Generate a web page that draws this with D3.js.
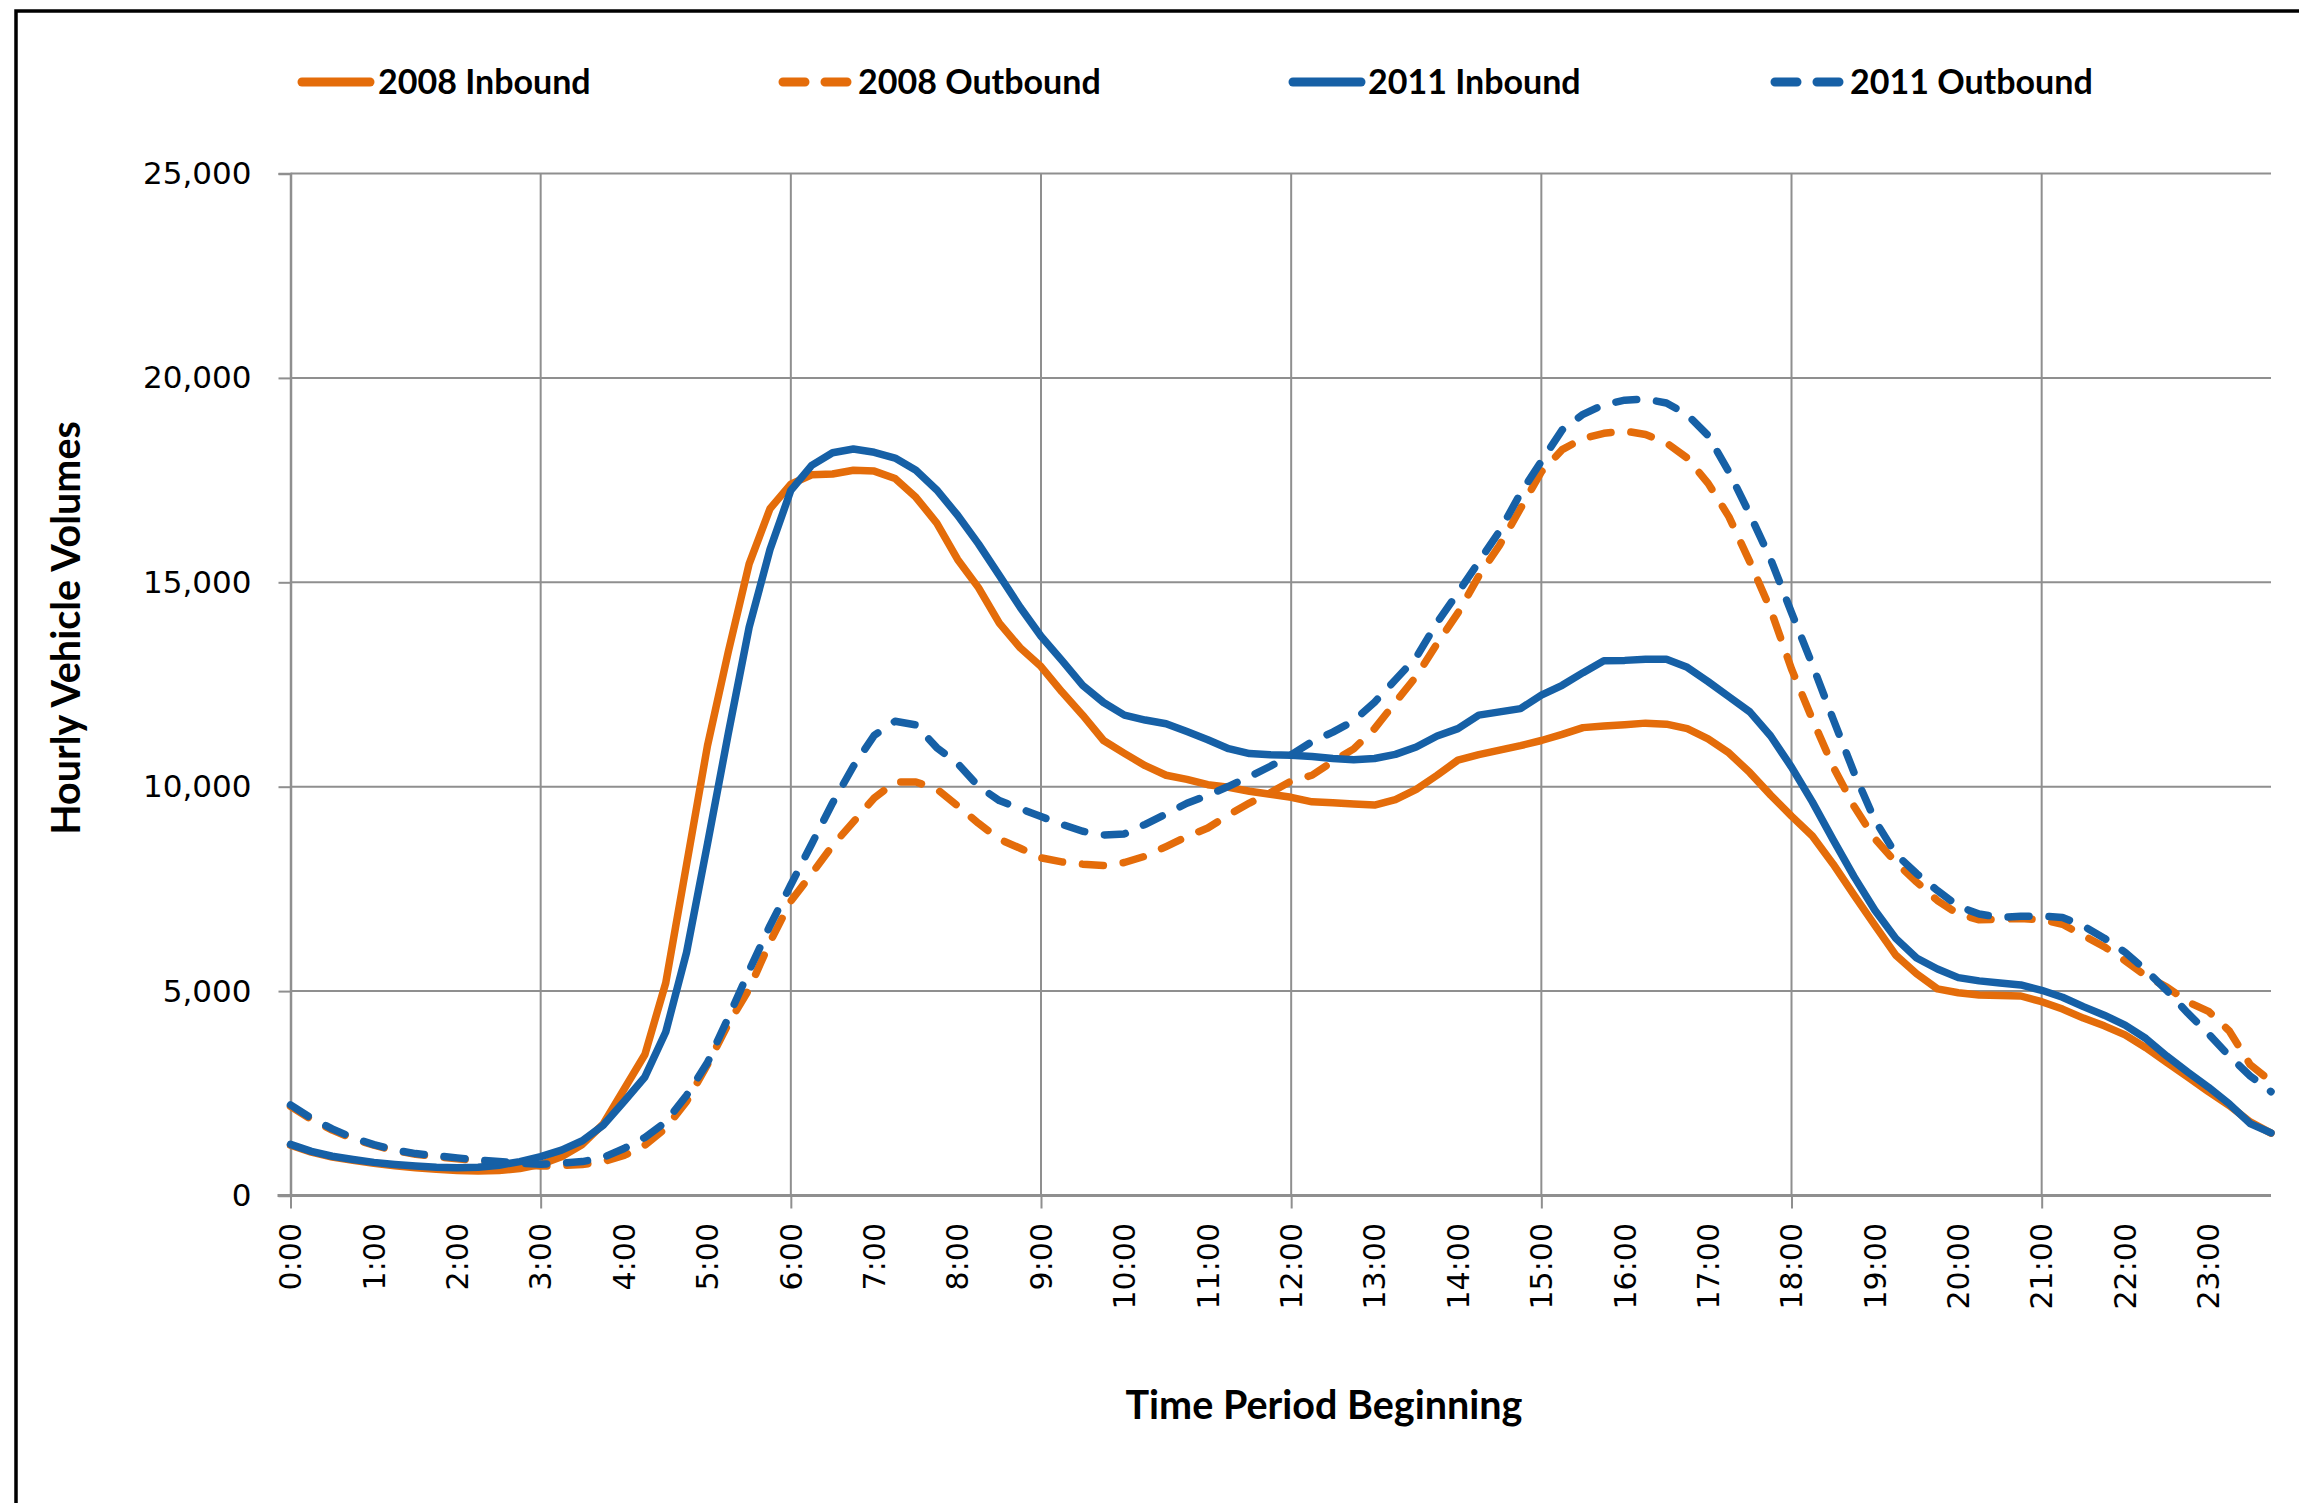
<!DOCTYPE html>
<html>
<head>
<meta charset="utf-8">
<script src="https://cdn.jsdelivr.net/npm/d3@7"></script>
<style>
  html, body { margin: 0; padding: 0; background: #ffffff; }
  svg { display: block; }
</style>
</head>
<body>
<svg id="chart" width="2299" height="1503"></svg>
<script>
// ---------------- data ----------------
const hourLabels = ["0:00","1:00","2:00","3:00","4:00","5:00","6:00","7:00","8:00","9:00","10:00","11:00",
                    "12:00","13:00","14:00","15:00","16:00","17:00","18:00","19:00","20:00","21:00","22:00","23:00"];
const quarterSuffix = ["00","15","30","45"];
const yTickValues = [0, 5000, 10000, 15000, 20000, 25000];
const seriesNames = ["2008 Inbound", "2008 Outbound", "2011 Inbound", "2011 Outbound"];

const inbound2008 = [
  1230,1060,940,860, 790,730,680,640, 610,600,610,660, 760,950,1250,1750,
  2600,3450,5200,8100, 11000,13300,15450,16800, 17400,17630,17650,17740,
  17720,17540,17080,16450, 15560,14870,14000,13400, 12940,12320,11750,11130,
  10815,10515,10280,10180, 10050,9985,9890,9815, 9740,9630,9605,9575,
  9550,9685,9935,10280, 10650,10785,10895,11005, 11130,11280,11445,11485,
  11515,11555,11530,11420, 11170,10825,10345,9795, 9280,8795,8105,7350,
  6610,5880,5425,5055, 4960,4905,4890,4880, 4740,4560,4340,4150,
  3930,3615,3255,2900, 2540,2200,1800,1525
];
const outbound2008 = [
  2180,1860,1600,1390, 1230,1100,1010,950, 900,850,800,760, 720,730,760,830,
  980,1230,1650,2300, 3200,4200,5050,6200, 7200,7870,8560,9140,
  9725,10115,10115,9945, 9530,9105,8715,8495, 8260,8160,8105,8070,
  8145,8300,8535,8780, 8990,9310,9600,9855, 10140,10280,10620,10925,
  11420,12065,12700,13500, 14250,15155,15910,16805, 17700,18245,18520,18645,
  18700,18615,18410,18040, 17420,16600,15500,14330, 12880,11650,10485,9520,
  8725,8150,7670,7215, 6885,6745,6760,6775, 6745,6635,6360,6085,
  5745,5370,5100,4740, 4505,4025,3200,2790
];
const inbound2011 = [
  1250,1080,960,880, 810,760,720,690, 680,690,740,830, 950,1110,1340,1720,
  2300,2900,4000,5950, 8600,11300,13900,15800, 17250,17860,18170,18260,
  18180,18040,17740,17260, 16640,15940,15170,14390, 13680,13090,12480,12060,
  11750,11630,11540,11350, 11150,10930,10810,10780, 10770,10740,10690,10660,
  10690,10790,10970,11240, 11420,11750,11830,11910, 12240,12480,12790,13080,
  13090,13120,13120,12920, 12570,12200,11830,11240, 10480,9630,8700,7800,
  6980,6290,5810,5540, 5330,5250,5200,5150, 5020,4850,4620,4410,
  4170,3840,3410,3020, 2650,2240,1760,1530
];
const outbound2011 = [
  2215,1890,1630,1410, 1245,1115,1025,970, 920,870,830,790, 765,790,830,930,
  1150,1420,1800,2450, 3250,4350,5500,6600, 7600,8600,9600,10500,
  11255,11600,11510,10955, 10570,10010,9660,9465, 9270,9080,8910,8820,
  8845,9080,9335,9595, 9790,10010,10245,10500, 10780,11100,11335,11610,
  12065,12615,13165,14015, 14745,15500,16255,17175, 17960,18730,19110,19345,
  19455,19485,19385,19100, 18590,17700,16665,15565, 14260,12985,11650,10345,
  9180,8355,7875,7460, 7075,6885,6800,6830, 6840,6800,6595,6295,
  5950,5510,5015,4465, 3955,3410,2925,2540
];

// categories: every 15 minutes
const categories = [];
hourLabels.forEach(h => quarterSuffix.forEach(q => categories.push(h.split(":")[0] + ":" + q)));

// ---------------- styles ----------------
const ORANGE = "#E46C0A";
const BLUE = "#1660A6";
const GRID = "#8f8f8f";
const series = [
  { name: seriesNames[0], values: inbound2008, color: ORANGE, dashed: false },
  { name: seriesNames[1], values: outbound2008, color: ORANGE, dashed: true },
  { name: seriesNames[2], values: inbound2011, color: BLUE, dashed: false },
  { name: seriesNames[3], values: outbound2011, color: BLUE, dashed: true }
];

const svg = d3.select("#chart");
const W = 2299, H = 1503;
const plot = { left: 290.5, right: 2271, top: 173.5, bottom: 1195.5 };

svg.append("rect").attr("width", W).attr("height", H).attr("fill", "#fff");
// outer frame (left & top visible)
svg.append("rect")
  .attr("x", 16).attr("y", 11).attr("width", W + 40).attr("height", H + 40)
  .attr("fill", "none").attr("stroke", "#000").attr("stroke-width", 3.5);

const x = d3.scalePoint().domain(categories).range([plot.left, plot.right]);
const y = d3.scaleLinear().domain([0, 25000]).range([plot.bottom, plot.top]);

// horizontal gridlines
svg.append("g").selectAll("line").data(yTickValues.filter(v => v > 0)).join("line")
  .attr("x1", plot.left).attr("x2", plot.right)
  .attr("y1", d => y(d)).attr("y2", d => y(d))
  .attr("stroke", GRID).attr("stroke-width", 2);

// vertical gridlines every 3 hours
const gridCats = categories.filter((c, i) => i % 12 === 0);
svg.append("g").selectAll("line").data(gridCats.filter((c, i) => i > 0)).join("line")
  .attr("x1", d => x(d)).attr("x2", d => x(d))
  .attr("y1", plot.top).attr("y2", plot.bottom)
  .attr("stroke", GRID).attr("stroke-width", 2);

// Y axis
const yAxis = svg.append("g").attr("transform", `translate(${plot.left},0)`)
  .call(d3.axisLeft(y).tickValues(yTickValues).tickFormat(d3.format(",")).tickSize(12).tickPadding(27));
yAxis.select(".domain").attr("stroke", GRID).attr("stroke-width", 2.5);
yAxis.selectAll(".tick line").attr("stroke", GRID).attr("stroke-width", 2);
yAxis.selectAll(".tick text")
  .attr("font-family", "'DejaVu Sans', Verdana, sans-serif")
  .attr("font-size", 31).attr("fill", "#000");

// X axis tick marks (every 3 hours)
const xTicks = svg.append("g").attr("transform", `translate(0,${plot.bottom})`)
  .call(d3.axisBottom(x).tickValues(gridCats).tickSize(13).tickFormat(""));
xTicks.select(".domain").remove();
xTicks.selectAll(".tick line").attr("stroke", GRID).attr("stroke-width", 2);

// X axis line
svg.append("line")
  .attr("x1", plot.left - 13).attr("x2", plot.right)
  .attr("y1", plot.bottom).attr("y2", plot.bottom)
  .attr("stroke", GRID).attr("stroke-width", 3);

// X labels (every hour), rotated
const labelCats = categories.filter((c, i) => i % 4 === 0);
svg.append("g").selectAll("text").data(labelCats).join("text")
  .attr("transform", (d, i) => `translate(${x(d)},1223) rotate(-90)`)
  .attr("text-anchor", "end")
  .attr("dy", "0.36em")
  .attr("font-family", "'DejaVu Sans', Verdana, sans-serif")
  .attr("font-size", 30).attr("fill", "#000")
  .text((d, i) => hourLabels[i]);

// series lines
const line = d3.line().x((d, i) => x(categories[i])).y(d => y(d));
series.forEach(s => {
  svg.append("path")
    .datum(s.values)
    .attr("d", line)
    .attr("fill", "none")
    .attr("stroke", s.color)
    .attr("stroke-width", 7.5)
    .attr("stroke-linecap", "round")
    .attr("stroke-linejoin", "round")
    .attr("stroke-dasharray", s.dashed ? "21,20" : null);
});

// legend
const legendItems = [
  { x1: 302, x2: 370, tx: 378 },
  { x1: 783, x2: 848, tx: 858 },
  { x1: 1293, x2: 1361, tx: 1368 },
  { x1: 1775, x2: 1840, tx: 1850 }
];
const legY = 82;
series.forEach((s, k) => {
  const L = legendItems[k];
  svg.append("line")
    .attr("x1", L.x1).attr("x2", L.x2).attr("y1", legY).attr("y2", legY)
    .attr("stroke", s.color).attr("stroke-width", 9)
    .attr("stroke-linecap", "round")
    .attr("stroke-dasharray", s.dashed ? "22,20" : null);
  svg.append("text")
    .attr("x", L.tx).attr("y", legY).attr("dy", "0.35em")
    .attr("font-family", "Lato, 'Open Sans', sans-serif").attr("font-weight", "bold")
    .attr("font-size", 34).attr("fill", "#000")
    .text(s.name);
});

// axis titles
svg.append("text")
  .attr("transform", "translate(66,628) rotate(-90)")
  .attr("text-anchor", "middle").attr("dy", "0.35em")
  .attr("font-family", "Lato, 'Open Sans', sans-serif").attr("font-weight", "bold")
  .attr("font-size", 39.5).attr("fill", "#000")
  .text("Hourly Vehicle Volumes");
svg.append("text")
  .attr("x", 1324).attr("y", 1405)
  .attr("text-anchor", "middle").attr("dy", "0.35em")
  .attr("font-family", "Lato, 'Open Sans', sans-serif").attr("font-weight", "bold")
  .attr("font-size", 39.5).attr("fill", "#000")
  .text("Time Period Beginning");
</script>
</body>
</html>
